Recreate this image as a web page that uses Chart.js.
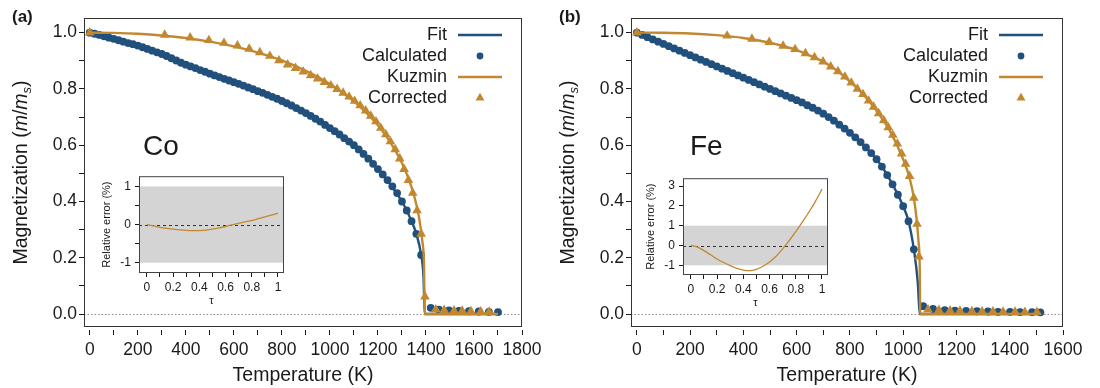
<!DOCTYPE html>
<html>
<head>
<meta charset="utf-8">
<title>Magnetization vs temperature: Co and Fe</title>
<script src="https://cdn.jsdelivr.net/npm/chart.js@4.4.1/dist/chart.umd.min.js"></script>
<style>
  html, body { margin: 0; padding: 0; background: #fff; }
  #page { position: relative; width: 1100px; height: 388px; overflow: hidden; }
  canvas { position: absolute; }
</style>
</head>
<body>
<div id="page">
  <canvas id="coMain" width="550" height="388" style="left:0;top:0"></canvas>
  <canvas id="feMain" width="553" height="388" style="left:547px;top:0"></canvas>
  <canvas id="coInset" width="195" height="145" style="left:95px;top:165px"></canvas>
  <canvas id="feInset" width="195" height="145" style="left:639px;top:167px"></canvas>
</div>
<script>
// ---- data ----

// (a) Co
const coCalcT = [0,20,40,60,80,100,120,140,160,180,200,220,240,260,280,300,320,340,360,380,
  400,420,440,460,480,500,520,540,560,580,600,620,640,660,680,700,720,740,760,780,
  800,820,840,860,880,900,920,940,960,980,1000,1020,1040,1060,1080,1100,1120,1140,1160,1180,
  1200,1220,1240,1260,1280,1300,1320,1340,1360,1380,
  1420,1454,1496,1537,1579,1620,1662,1700];
const coCalcM = [1.000,0.996,0.992,0.987,0.982,0.978,0.973,0.968,0.963,0.959,
  0.954,0.948,0.942,0.936,0.930,0.924,0.917,0.909,0.901,0.893,
  0.886,0.880,0.874,0.867,0.861,0.854,0.848,0.842,0.836,0.830,
  0.824,0.818,0.812,0.805,0.799,0.792,0.786,0.779,0.772,0.765,
  0.757,0.749,0.741,0.732,0.723,0.714,0.704,0.694,0.684,0.672,
  0.661,0.650,0.638,0.625,0.613,0.600,0.585,0.569,0.552,0.534,
  0.515,0.496,0.476,0.454,0.430,0.400,0.368,0.330,0.285,0.210,
  0.022,0.016,0.013,0.011,0.010,0.009,0.008,0.007];
const coFitT = [0,100,200,300,400,500,600,700,800,900,1000,1100,1200,1300,1340,1360,1380,1390,1395,1700];
const coFitM = [1.000,0.978,0.954,0.924,0.886,0.854,0.824,0.792,0.757,0.714,0.661,0.600,0.515,0.400,0.330,0.285,0.210,0.130,0,0];
const coKuzT = [0,100,200,300,400,500,600,700,800,900,1000,1100,1150,1200,1250,1300,1325,1350,1370,1385,1392,1395,1700];
const coKuzM = [1.000,0.999,0.996,0.990,0.981,0.968,0.951,0.929,0.901,0.864,0.817,0.756,0.717,0.671,0.613,0.537,0.487,0.423,0.348,0.258,0.173,0,0];
const coCorrT = [0,312,418,496,559,615,664,708,750,788,824,857,889,920,949,977,1004,1030,1055,1080,
  1103,1126,1149,1170,1192,1212,1233,1252,1272,1291,1309,1327,1345,1363,1380,1396,
  1441,1476,1517,1551,1587,1628,1663];
const coCorrM = [1.000,0.992,0.982,0.973,0.963,0.954,0.942,0.930,0.917,0.901,0.886,0.874,0.861,0.848,0.836,0.824,0.812,0.799,0.786,0.772,
  0.757,0.741,0.723,0.704,0.684,0.661,0.638,0.613,0.585,0.552,0.515,0.476,0.430,0.368,0.285,0.062,
  0.016,0.014,0.012,0.011,0.010,0.009,0.008];

// (b) Fe
const feCalcT = [0,20,40,60,80,100,120,140,160,180,200,220,240,260,280,300,320,340,360,380,
  400,420,440,460,480,500,520,540,560,580,600,620,640,660,680,700,720,740,760,780,
  800,820,840,860,880,900,920,940,960,980,1000,1020,1040,
  1075,1112,1156,1194,1236,1277,1318,1356,1401,1439,1484,1515];
const feCalcM = [1.000,0.992,0.984,0.976,0.968,0.960,0.952,0.944,0.936,0.928,
  0.920,0.912,0.904,0.896,0.888,0.880,0.872,0.864,0.856,0.848,
  0.840,0.832,0.824,0.816,0.808,0.800,0.792,0.784,0.776,0.768,
  0.760,0.752,0.742,0.733,0.723,0.712,0.700,0.687,0.673,0.659,
  0.644,0.628,0.611,0.592,0.572,0.550,0.524,0.494,0.461,0.424,
  0.383,0.330,0.230,
  0.028,0.018,0.014,0.012,0.011,0.010,0.009,0.008,0.008,0.007,0.007,0.006];
const feFitT = [0,100,200,300,400,500,600,700,800,900,950,1000,1020,1040,1055,1062,1515];
const feFitM = [1.000,0.960,0.920,0.880,0.840,0.800,0.760,0.712,0.644,0.550,0.478,0.383,0.330,0.230,0.110,0,0];
const feKuzT = [0,100,200,300,400,500,550,600,650,700,750,800,850,900,950,1000,1025,1040,1050,1057,1062,1064,1515];
const feKuzM = [1.000,0.9995,0.997,0.991,0.981,0.964,0.952,0.938,0.918,0.897,0.866,0.826,0.780,0.722,0.651,0.550,0.480,0.413,0.340,0.263,0.170,0,0];
const feCorrT = [0,339,432,497,549,594,633,667,699,728,755,781,805,828,849,870,889,908,927,944,
  961,978,994,1009,1024,1040,1052,1059,
  1093,1134,1176,1213,1258,1296,1337,1375,1420,1457,1502];
const feCorrM = [1.000,0.989,0.978,0.966,0.953,0.941,0.926,0.912,0.897,0.879,0.862,0.843,0.822,0.800,0.781,0.758,0.736,0.713,0.688,0.663,
  0.636,0.605,0.570,0.533,0.490,0.413,0.320,0.204,
  0.016,0.014,0.012,0.011,0.010,0.009,0.009,0.008,0.008,0.007,0.007];

// insets: relative error (%) against reduced temperature tau
const insetTau = [0,0.05,0.1,0.15,0.2,0.25,0.3,0.35,0.4,0.45,0.5,0.55,0.6,0.65,0.7,0.75,0.8,0.85,0.9,0.95,1];
const coErr = [0,-0.036,-0.07,-0.098,-0.12,-0.139,-0.153,-0.16,-0.157,-0.143,-0.12,-0.088,-0.05,-0.01,0.035,0.072,0.11,0.155,0.2,0.25,0.3];
const feErr = [0,-0.08,-0.26,-0.47,-0.68,-0.86,-1.02,-1.15,-1.24,-1.27,-1.2,-1.05,-0.83,-0.54,-0.17,0.25,0.7,1.18,1.68,2.23,2.85];

// tick values
const magTicks = [0,0.1,0.2,0.3,0.4,0.5,0.6,0.7,0.8,0.9,1.0];
const coTempTicks = [0,100,200,300,400,500,600,700,800,900,1000,1100,1200,1300,1400,1500,1600,1700,1800];
const feTempTicks = [0,100,200,300,400,500,600,700,800,900,1000,1100,1200,1300,1400,1500,1600];
const tauTicks = [0,0.1,0.2,0.3,0.4,0.5,0.6,0.7,0.8,0.9,1];
const coErrTicks = [-1,-0.5,0,0.5,1];
const feErrTicks = [-1,-0.5,0,0.5,1,1.5,2,2.5,3];

// ---- style ----
const FONT = '"Liberation Sans", Arial, Helvetica, sans-serif';
const INK = '#1a1a1a';
const BLUE = '#21507d';
const ORANGE = '#c2882f';
const TITLE_SIZE = 19.5;
const TICK_SIZE = 17.5;

const pts = (xs, ys) => xs.map((x, i) => ({ x: x, y: ys[i] }));

// y title with italic m/m and subscript s
function drawMagTitle(ctx, cx, cy) {
  const big = TITLE_SIZE + 'px ' + FONT;
  const parts = [
    { t: 'Magnetization (', f: big, dy: 0 },
    { t: 'm', f: 'italic ' + big, dy: 0 },
    { t: '/', f: big, dy: 0 },
    { t: 'm', f: 'italic ' + big, dy: 0 },
    { t: 's', f: 'italic 13px ' + FONT, dy: 5 },
    { t: ')', f: big, dy: 0 }
  ];
  ctx.save();
  let total = 0;
  parts.forEach(p => { ctx.font = p.f; p.w = ctx.measureText(p.t).width; total += p.w; });
  ctx.translate(cx, cy);
  ctx.rotate(-Math.PI / 2);
  ctx.fillStyle = INK;
  ctx.textBaseline = 'middle';
  ctx.textAlign = 'left';
  let x = -total / 2;
  parts.forEach(p => { ctx.font = p.f; ctx.fillText(p.t, x, p.dy); x += p.w; });
  ctx.restore();
}

const framePlugin = (panel, element) => ({
  id: 'frame',
  beforeDatasetsDraw(chart) {
    // dotted zero line
    const { ctx, chartArea: a, scales: { y } } = chart;
    const y0 = Math.round(y.getPixelForValue(0)) + 0.5;
    ctx.save();
    ctx.strokeStyle = '#8c8c8c';
    ctx.lineWidth = 1;
    ctx.setLineDash([1.5, 2]);
    ctx.beginPath();
    ctx.moveTo(a.left, y0);
    ctx.lineTo(a.right, y0);
    ctx.stroke();
    ctx.restore();
  },
  afterDraw(chart) {
    const { ctx, chartArea: a } = chart;
    ctx.save();
    ctx.strokeStyle = '#333';
    ctx.lineWidth = 1;
    ctx.strokeRect(a.left + 0.5, a.top + 0.5, a.right - a.left - 1, a.bottom - a.top - 1);

    // legend: label on the left, symbol on the right
    const xr = a.right - 75, xs = a.right - 42;
    ctx.font = '18px ' + FONT;
    ctx.textAlign = 'right';
    ctx.textBaseline = 'middle';
    chart.data.datasets.forEach((ds, i) => {
      const yy = a.top + 17 + 21 * i;
      ctx.fillStyle = INK;
      ctx.fillText(ds.label, xr, yy);
      const col = ds.borderColor;
      ctx.fillStyle = col;
      ctx.strokeStyle = col;
      if (ds.showLine !== false) {
        ctx.lineWidth = 2.5;
        ctx.beginPath(); ctx.moveTo(xs - 22, yy); ctx.lineTo(xs + 22, yy); ctx.stroke();
      } else if (ds.pointStyle === 'triangle') {
        const r = 5.2;
        ctx.beginPath();
        ctx.moveTo(xs, yy - r);
        ctx.lineTo(xs + r * 0.866, yy + r * 0.5);
        ctx.lineTo(xs - r * 0.866, yy + r * 0.5);
        ctx.closePath(); ctx.fill();
      } else {
        ctx.beginPath(); ctx.arc(xs, yy, 3.4, 0, Math.PI * 2); ctx.fill();
      }
    });

    drawMagTitle(ctx, 22, (a.top + a.bottom) / 2);

    ctx.fillStyle = INK;
    ctx.textAlign = 'left';
    ctx.textBaseline = 'middle';
    ctx.font = 'bold 17px ' + FONT;
    ctx.fillText(panel, 12, 17);
    ctx.textBaseline = 'alphabetic';
    ctx.font = '28px ' + FONT;
    ctx.fillText(element, 143, 155);
    ctx.restore();
  }
});

function mainChart(id, p) {
  return new Chart(document.getElementById(id), {
    type: 'line',
    data: {
      datasets: [
        { label: 'Fit', data: pts(p.fitT, p.fitM), borderColor: BLUE, borderWidth: 2.4,
          pointRadius: 0, cubicInterpolationMode: 'monotone', order: 3 },
        { label: 'Calculated', data: pts(p.calcT, p.calcM), showLine: false, pointStyle: 'circle',
          pointRadius: 3.9, borderColor: BLUE, backgroundColor: BLUE, pointBorderWidth: 0, order: 2 },
        { label: 'Kuzmin', data: pts(p.kuzT, p.kuzM), borderColor: ORANGE, borderWidth: 2.4,
          pointRadius: 0, cubicInterpolationMode: 'monotone', order: 1 },
        { label: 'Corrected', data: pts(p.corrT, p.corrM), showLine: false, pointStyle: 'triangle',
          pointRadius: 5.6, borderColor: ORANGE, backgroundColor: ORANGE, pointBorderWidth: 0, order: 0 }
      ]
    },
    options: {
      responsive: false,
      animation: false,
      events: [],
      layout: { padding: { left: 0, top: 18, right: p.padRight, bottom: 0 } },
      plugins: { legend: { display: false }, tooltip: { enabled: false } },
      scales: {
        x: {
          type: 'linear', min: p.xMin, max: p.xMax,
          afterBuildTicks: s => { s.ticks = p.xTicks.map(v => ({ value: v })); },
          afterFit: s => { s.height = 61; },
          border: { display: false },
          grid: { drawOnChartArea: false, tickLength: 9, tickColor: INK, tickWidth: 1,
                  tickBorderDash: [5, 100], tickBorderDashOffset: 102 },
          ticks: { autoSkip: false, maxRotation: 0, padding: 4, color: INK,
                   font: { family: FONT, size: TICK_SIZE },
                   callback: v => (v % 200 === 0 ? String(v) : '') },
          title: { display: true, text: 'Temperature (K)', color: INK,
                   font: { family: FONT, size: TITLE_SIZE }, padding: { top: 0, bottom: 1 } }
        },
        y: {
          type: 'linear', min: -0.046, max: 1.052,
          afterBuildTicks: s => { s.ticks = magTicks.map(v => ({ value: v })); },
          afterFit: s => { s.width = 84; },
          border: { display: false },
          grid: { drawOnChartArea: false, tickLength: 5, tickColor: INK, tickWidth: 1 },
          ticks: { padding: 2, color: INK, font: { family: FONT, size: TICK_SIZE },
                   callback: v => (Math.round(v * 10) % 2 === 0 ? v.toFixed(1) : '') }
        }
      }
    },
    plugins: [framePlugin(p.panel, p.element)]
  });
}

const insetPlugin = {
  id: 'insetFrame',
  beforeDraw(chart) {
    const { ctx, chartArea: a } = chart;
    ctx.save();
    ctx.fillStyle = '#fff';
    ctx.fillRect(a.left, a.top, a.right - a.left, a.bottom - a.top);
    ctx.restore();
  },
  beforeDatasetsDraw(chart) {
    // +/-1 % band and the dashed zero line
    const { ctx, chartArea: a, scales: { y } } = chart;
    const yTop = y.getPixelForValue(1), yBot = y.getPixelForValue(-1);
    ctx.save();
    ctx.fillStyle = '#d4d4d4';
    ctx.fillRect(a.left, yTop, a.right - a.left, yBot - yTop);
    const y0 = Math.round(y.getPixelForValue(0)) + 0.5;
    ctx.strokeStyle = '#333';
    ctx.lineWidth = 1;
    ctx.setLineDash([3, 3]);
    ctx.beginPath();
    ctx.moveTo(a.left, y0);
    ctx.lineTo(a.right, y0);
    ctx.stroke();
    ctx.restore();
  },
  afterDraw(chart) {
    const { ctx, chartArea: a } = chart;
    ctx.save();
    ctx.strokeStyle = '#444';
    ctx.lineWidth = 1;
    ctx.strokeRect(a.left + 0.5, a.top + 0.5, a.right - a.left - 1, a.bottom - a.top - 1);
    ctx.restore();
  }
};

function insetChart(id, q) {
  return new Chart(document.getElementById(id), {
    type: 'line',
    data: {
      datasets: [{ data: pts(insetTau, q.err), borderColor: ORANGE, borderWidth: 1.3,
                   pointRadius: 0, cubicInterpolationMode: 'monotone' }]
    },
    options: {
      responsive: false,
      animation: false,
      events: [],
      layout: { padding: { left: 0, top: 6, right: 6, bottom: 0 } },
      plugins: { legend: { display: false }, tooltip: { enabled: false } },
      scales: {
        x: {
          type: 'linear', min: -0.06, max: 1.046,
          afterBuildTicks: s => { s.ticks = tauTicks.map(v => ({ value: v })); },
          afterFit: s => { s.height = 37; },
          border: { display: false },
          grid: { drawOnChartArea: false, tickLength: 4, tickColor: INK },
          ticks: { autoSkip: false, maxRotation: 0, padding: 3, color: INK,
                   font: { family: FONT, size: 12 },
                   callback: v => (Math.round(v * 10) % 2 === 0 ? String(v) : '') },
          title: { display: true, text: 'τ', color: INK, font: { family: FONT, size: 11 },
                   padding: { top: 0, bottom: 2 } }
        },
        y: {
          type: 'linear', min: q.yMin, max: q.yMax,
          afterBuildTicks: s => { s.ticks = q.yTicks.map(v => ({ value: v })); },
          afterFit: s => { s.width = 44; },
          border: { display: false },
          grid: { drawOnChartArea: false, tickLength: 4, tickColor: INK },
          ticks: { padding: 4, color: INK, font: { family: FONT, size: 12 },
                   callback: v => (Number.isInteger(v) ? String(v) : '') },
          title: { display: true, text: 'Relative error (%)', color: INK,
                   font: { family: FONT, size: 11 }, padding: { top: 5, bottom: 0 } }
        }
      }
    },
    plugins: [insetPlugin]
  });
}

mainChart('coMain', {
  panel: '(a)', element: 'Co',
  calcT: coCalcT, calcM: coCalcM, fitT: coFitT, fitM: coFitM,
  kuzT: coKuzT, kuzM: coKuzM, corrT: coCorrT, corrM: coCorrM,
  xMin: -24, xMax: 1800, xTicks: coTempTicks, padRight: 28
});
mainChart('feMain', {
  panel: '(b)', element: 'Fe',
  calcT: feCalcT, calcM: feCalcM, fitT: feFitT, fitM: feFitM,
  kuzT: feKuzT, kuzM: feKuzM, corrT: feCorrT, corrM: feCorrM,
  xMin: -22, xMax: 1600, xTicks: feTempTicks, padRight: 37
});
insetChart('coInset', { err: coErr, yMin: -1.27, yMax: 1.27, yTicks: coErrTicks });
insetChart('feInset', { err: feErr, yMin: -1.49, yMax: 3.4, yTicks: feErrTicks });
</script>
</body>
</html>
